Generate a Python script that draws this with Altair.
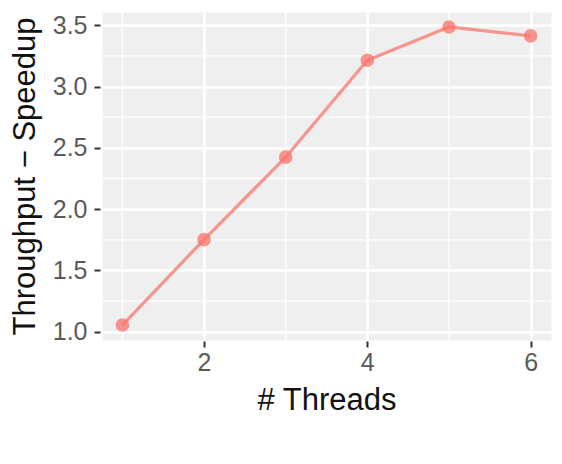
import altair as alt
import pandas as pd

threads = [1, 2, 3, 4, 5, 6]
speedup = [1.055, 1.752, 2.424, 3.214, 3.486, 3.413]

y_major = [1.0, 1.5, 2.0, 2.5, 3.0, 3.5]
y_minor = [1.25, 1.75, 2.25, 2.75, 3.25]
x_major = [2, 4, 6]
x_minor = [1, 3, 5]

df = pd.DataFrame({"threads": threads, "speedup": speedup})
df_ym = pd.DataFrame({"v": y_minor})
df_xm = pd.DataFrame({"v": x_minor})

FONT = "Liberation Sans"
COLOR = "#F8766D"

xscale = alt.Scale(domain=[0.75, 6.25], nice=False, zero=False)
yscale = alt.Scale(domain=[0.933, 3.608], nice=False, zero=False)

xaxis = alt.Axis(
    values=x_major, format="d", title="# Threads",
    labelFontSize=25, labelColor="#5A5A5A", labelFont=FONT, labelPadding=3,
    titleFontSize=31, titleFont=FONT, titleColor="#111111", titleFontWeight="normal",
    titlePadding=10, tickColor="#333333", tickSize=6, tickWidth=2, offset=1,
    domain=False, grid=True, gridColor="white", gridWidth=2.6,
)
yaxis = alt.Axis(
    values=y_major, format=".1f", title="Throughput − Speedup",
    labelFontSize=25, labelColor="#5A5A5A", labelFont=FONT, labelPadding=7,
    titleFontSize=31, titleFont=FONT, titleColor="#111111", titleFontWeight="normal",
    titlePadding=11, tickColor="#333333", tickSize=6, tickWidth=2, offset=2,
    domain=False, grid=True, gridColor="white", gridWidth=2.6,
)

minor_y = alt.Chart(df_ym).mark_rule(color="white", strokeWidth=1.3).encode(
    y=alt.Y("v:Q", scale=yscale, axis=yaxis)
)
minor_x = alt.Chart(df_xm).mark_rule(color="white", strokeWidth=1.3).encode(
    x=alt.X("v:Q", scale=xscale, axis=xaxis)
)

base = alt.Chart(df).encode(
    x=alt.X("threads:Q", scale=xscale, axis=xaxis),
    y=alt.Y("speedup:Q", scale=yscale, axis=yaxis),
)
line = base.mark_line(color=COLOR, strokeWidth=3.2, opacity=0.75)
pts = base.mark_circle(color=COLOR, size=185, opacity=0.78)

chart = alt.layer(minor_y, minor_x, line, pts).properties(
    width=449, height=328,
    autosize=alt.AutoSizeParams(type="none"),
    padding={"left": 94, "top": 4, "right": 3, "bottom": 116},
    background="white",
).configure_view(fill="#EFEFEF", stroke="transparent")

chart.save("out.html", embed_options={"renderer": "svg", "actions": False})
